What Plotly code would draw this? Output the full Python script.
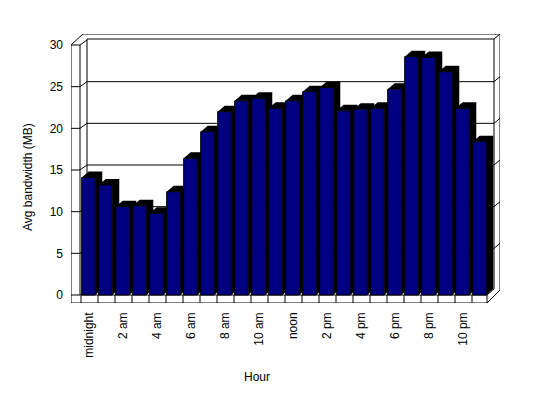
import plotly.graph_objects as go

# ---- data ----
hours = ["midnight", "1 am", "2 am", "3 am", "4 am", "5 am", "6 am", "7 am",
         "8 am", "9 am", "10 am", "11 am", "noon", "1 pm", "2 pm", "3 pm",
         "4 pm", "5 pm", "6 pm", "7 pm", "8 pm", "9 pm", "10 pm", "11 pm"]
bandwidth = [14.1, 13.2, 10.6, 10.7, 9.8, 12.4, 16.4, 19.6, 22.0, 23.3, 23.6, 22.4,
             23.3, 24.4, 24.9, 22.1, 22.3, 22.4, 24.7, 28.6, 28.5, 26.8, 22.4, 18.4]
y_ticks = [0, 5, 10, 15, 20, 25, 30]
x_title = "Hour"
y_title = "Avg bandwidth (MB)"

# ---- layout geometry (page pixels; the page body has an 8px margin) ----
W, H = 548, 398
BODY = 8
PL, PT = 71, 34              # plot area left/top on the page
PW, PH = 429, 269            # plot area size
L, T = PL - BODY, PT - BODY
R, B = W - L - PW, H - T - PH
X0_PX, DX_PX = 89.5, 17.0        # centre of first category, category pitch
Y0_PX, DY_PX = 295.0, 250.0 / 30  # zero line, px per unit

def X(px):
    return (px - X0_PX) / DX_PX

def Y(py):
    return (Y0_PX - py) / DY_PX

xr = [X(PL), X(PL + PW)]
yr = [Y(PT + PH), Y(PT)]

n = len(bandwidth)
idx = list(range(n))
bar_w, bar_off = 0.8, -0.46
depth_x, depth_y = 7 / DX_PX, 6 / DY_PX

# side + top faces of each bar (polygons built from the data values)
sx, sy = [], []
for i, v in zip(idx, bandwidth):
    xl = i + bar_off
    xrr = xl + bar_w
    pts = [(xl, v), (xl + depth_x, v + depth_y), (xrr + depth_x, v + depth_y),
           (xrr + depth_x, depth_y), (xrr, 0), (xrr, v), (xl, v)]
    sx += [p[0] for p in pts] + [None]
    sy += [p[1] for p in pts] + [None]

fig = go.Figure()
fig.add_trace(go.Scatter(x=sx, y=sy, mode="lines", fill="toself",
                         fillcolor="black", line=dict(width=0, color="black"),
                         hoverinfo="skip", showlegend=False))
fig.add_trace(go.Bar(x=idx, y=bandwidth, width=bar_w, offset=bar_off,
                     marker=dict(color="#000080", line=dict(color="black", width=1)),
                     xaxis="x2", yaxis="y2", showlegend=False))

# ---- 3D frame ----
shapes = []
def seg(x1, y1, x2, y2):
    shapes.append(dict(type="line", xref="x", yref="y", layer="below",
                       x0=X(x1), y0=Y(y1), x1=X(x2), y1=Y(y2),
                       line=dict(color="black", width=1)))

seg(71, 45, 71, 303)      # front axis
seg(71, 303, 487, 303)    # bottom
seg(81, 295, 487, 295)    # floor strip top
seg(487, 295, 487, 303)
for k in range(n + 1):
    px = 81 + DX_PX * k
    if px < 487:
        seg(px, 295, px, 303)
seg(487, 303, 500, 290)
seg(487, 295, 494, 289)
seg(71, 45, 83, 34)       # outer top-left bevel
seg(83, 34, 500, 34)      # outer top
seg(500, 34, 500, 290)    # outer right
seg(80, 45, 80, 295)      # inner left wall edge
seg(87, 39, 87, 289)      # back wall left
seg(87, 39, 494, 39)      # back wall top
seg(494, 39, 494, 289)    # back wall right
seg(494, 39, 500, 34)
for v in y_ticks:
    yf = Y0_PX - DY_PX * v
    yb = yf - 5
    seg(71, yf, 80, yf)
    seg(80, yf, 87, yb)
    if 0 < v < 30:
        seg(87, yb, 494, yb)
        seg(494, yb, 500, yb - 5)

font = dict(family="Liberation Sans, Arial, sans-serif", size=12, color="black")

def px_to_paper(px, py):
    return (px - PL) / PW, (PT + PH - py) / PH

ax_x, ax_y = px_to_paper(257, 377)
ay_x, ay_y = px_to_paper(28, 177)

fig.update_layout(
    width=W, height=H,
    margin=dict(l=L, r=R, t=T, b=B, pad=0),
    paper_bgcolor="white", plot_bgcolor="white",
    font=font, barmode="overlay", showlegend=False,
    shapes=shapes,
    xaxis=dict(range=xr, showgrid=False, zeroline=False, showline=False,
               tickmode="array", tickvals=idx[::2], ticktext=hours[::2],
               tickangle=-90, ticks="", ticklabelstandoff=6, tickfont=font),
    yaxis=dict(range=yr, showgrid=False, zeroline=False, showline=False,
               tickmode="array", tickvals=y_ticks, ticks="",
               ticklabelstandoff=7, tickfont=font),
    xaxis2=dict(range=xr, overlaying="x", visible=False),
    yaxis2=dict(range=yr, overlaying="y", visible=False),
    annotations=[
        dict(text=x_title, x=ax_x, y=ax_y, xref="paper", yref="paper",
             showarrow=False, font=font, xanchor="center", yanchor="middle"),
        dict(text=y_title, x=ay_x, y=ay_y, xref="paper", yref="paper",
             showarrow=False, font=font, textangle=-90,
             xanchor="center", yanchor="middle"),
    ],
)

fig.write_html("out.html")
